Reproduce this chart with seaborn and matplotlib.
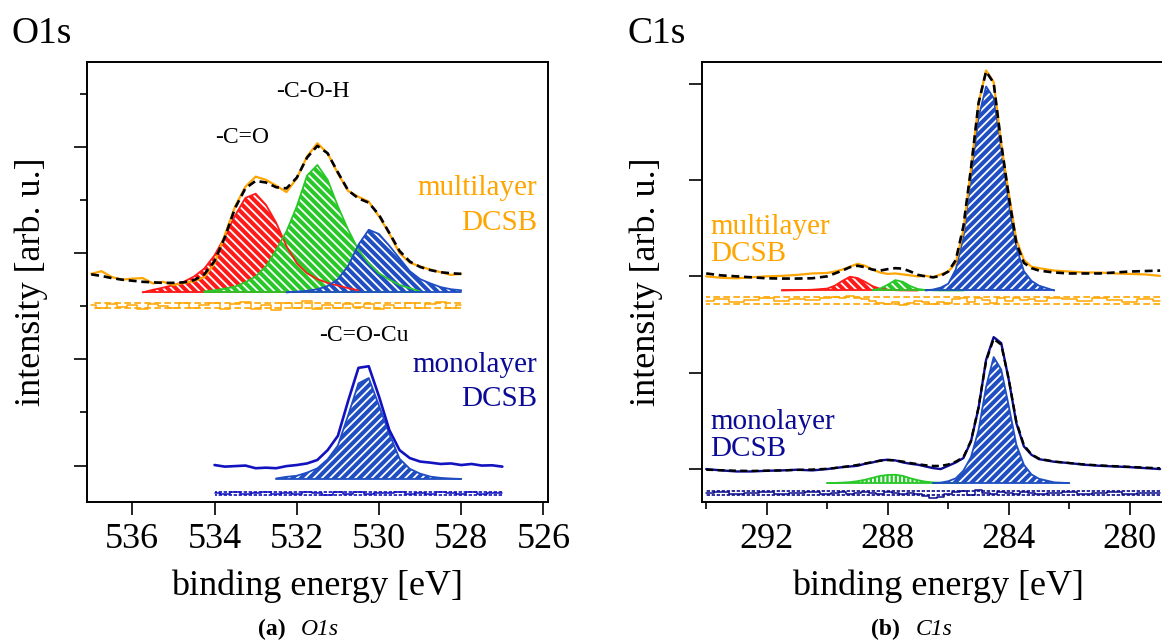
import numpy as np
import pandas as pd
import matplotlib
matplotlib.use("Agg")
import matplotlib.pyplot as plt
import seaborn as sns

nan = np.nan

# ---------------- O1s ----------------
o1s_energy = [537.0, 536.75, 536.5, 536.25, 536.0, 535.75, 535.5, 535.25, 535.0,
              534.75, 534.5, 534.25, 534.0, 533.75, 533.5, 533.25, 533.0, 532.75,
              532.5, 532.25, 532.0, 531.75, 531.5, 531.25, 531.0, 530.75, 530.5,
              530.25, 530.0, 529.75, 529.5, 529.25, 529.0, 528.75, 528.5, 528.25,
              528.0, 527.75, 527.5, 527.25, 527.0]

o1s_multi_data = [3.61, 3.66, 3.55, 3.50, 3.52, 3.53, 3.43, 3.46, 3.40, 3.44, 3.47, 3.55,
                  3.81, 4.34, 4.88, 5.25, 5.44, 5.38, 5.27, 5.15, 5.41, 5.82, 6.07, 5.88,
                  5.50, 5.17, 5.06, 4.97, 4.69, 4.37, 4.00, 3.82, 3.75, 3.69, 3.64, 3.59,
                  3.61, nan, nan, nan, nan]
o1s_multi_fit = [3.60, 3.57, 3.53, 3.50, 3.48, 3.46, 3.45, 3.44, 3.44, 3.45, 3.49, 3.60,
                 3.85, 4.30, 4.85, 5.22, 5.36, 5.33, 5.24, 5.22, 5.42, 5.80, 6.02, 5.88,
                 5.52, 5.18, 5.03, 4.95, 4.72, 4.38, 4.04, 3.84, 3.74, 3.68, 3.64, 3.62,
                 3.61, nan, nan, nan, nan]
o1s_multi_resid = [3.03, 2.97, 3.05, 2.98, 3.02, 2.95, 3.04, 3.00, 2.97, 3.06, 2.96, 3.02,
                   3.07, 2.94, 3.05, 3.08, 2.95, 3.03, 2.93, 3.06, 2.97, 3.09, 2.94, 3.02,
                   2.96, 3.05, 2.99, 3.04, 2.95, 3.03, 2.97, 3.06, 2.96, 3.04, 3.08, 2.97,
                   3.02, nan, nan, nan, nan]
o1s_multi_base = 3.26
# fitted components (height above the component baseline)
o1s_red = [nan, nan, nan, nan, nan, 0.0, 0.05, 0.09, 0.14, 0.20, 0.30, 0.45, 0.70, 1.05,
           1.45, 1.78, 1.86, 1.65, 1.31, 0.87, 0.55, 0.36, 0.25, 0.18, 0.13, 0.08, 0.04,
           nan, nan, nan, nan, nan, nan, nan, nan, nan, nan, nan, nan, nan, nan]
o1s_green = [nan, nan, nan, nan, nan, nan, nan, nan, nan, nan, nan, 0.02, 0.04, 0.07,
             0.11, 0.19, 0.30, 0.49, 0.80, 1.15, 1.62, 2.20, 2.40, 2.12, 1.62, 1.18, 0.80,
             0.55, 0.36, 0.24, 0.14, 0.08, 0.02, nan, nan, nan, nan, nan, nan, nan, nan]
o1s_blue = [nan, nan, nan, nan, nan, nan, nan, nan, nan, nan, nan, nan, nan, nan, nan,
            nan, nan, nan, nan, 0.0, 0.015, 0.03, 0.06, 0.12, 0.25, 0.50, 0.90, 1.18, 1.10,
            0.88, 0.64, 0.40, 0.25, 0.17, 0.10, 0.06, 0.04, nan, nan, nan, nan]

o1s_mono_data = [nan] * 12 + [0.01, -0.02, -0.01, 0.0, -0.05, -0.04, -0.05, -0.01, 0.01,
                              0.04, 0.105, 0.29, 0.56, 1.22, 1.84, 1.87, 1.30, 0.67, 0.29,
                              0.14, 0.075, 0.055, 0.03, 0.04, 0.01, 0.03, 0.0, 0.005, -0.02]
o1s_mono_resid = [nan] * 12 + [-0.51, -0.53, -0.50, -0.54, -0.52, -0.50, -0.53, -0.51, -0.54,
                               -0.50, -0.52, -0.55, -0.50, -0.53, -0.49, -0.54, -0.51, -0.52,
                               -0.50, -0.54, -0.51, -0.53, -0.50, -0.52, -0.54, -0.50, -0.53,
                               -0.51, -0.52]
o1s_mono_base = -0.252
o1s_mono_blue = [nan] * 18 + [0.01, 0.04, 0.06, 0.12, 0.20, 0.37, 0.63, 1.20, 1.80, 1.90,
                              1.38, 0.85, 0.38, 0.19, 0.10, 0.044, 0.02, 0.008, 0.0] + [nan] * 4

# ---------------- C1s ----------------
c1s_energy = [294.0, 293.5, 293.0, 292.5, 292.0, 291.5, 291.0, 290.5, 290.0, 289.75,
              289.5, 289.25, 289.0, 288.75, 288.5, 288.25, 288.0, 287.75, 287.5, 287.25,
              287.0, 286.75, 286.5, 286.25, 286.0, 285.75, 285.5, 285.25, 285.0, 284.75,
              284.5, 284.25, 284.0, 283.75, 283.5, 283.25, 283.0, 282.5, 282.0, 281.5,
              281.0, 280.5, 280.0, 279.5, 279.0]

c1s_multi_data = [2.00, 1.985, 1.98, 1.99, 2.00, 2.005, 2.015, 2.03, 2.035, 2.05, 2.07,
                  2.10, 2.13, 2.11, 2.07, 2.04, 2.025, 2.03, 2.02, 2.01, 2.00, 2.005, 1.99,
                  2.02, 2.05, 2.14, 2.48, 3.11, 3.80, 4.14, 4.02, 3.38, 2.86, 2.38, 2.17,
                  2.10, 2.085, 2.06, 2.05, 2.04, 2.04, 2.03, 2.025, 2.02, 2.005]
c1s_multi_fit = [2.03, 2.01, 2.00, 1.99, 1.98, 1.977, 1.977, 1.98, 2.00, 2.03, 2.06, 2.095,
                 2.11, 2.095, 2.07, 2.06, 2.075, 2.085, 2.08, 2.05, 2.015, 2.00, 1.99, 2.005,
                 2.05, 2.17, 2.52, 3.12, 3.80, 4.13, 4.01, 3.38, 2.83, 2.345, 2.14, 2.085,
                 2.06, 2.04, 2.03, 2.03, 2.03, 2.04, 2.05, 2.055, 2.06]
c1s_multi_resid = [1.74, 1.76, 1.73, 1.75, 1.77, 1.74, 1.76, 1.75, 1.78, 1.79, 1.77, 1.80,
                   1.78, 1.76, 1.74, 1.72, 1.71, 1.73, 1.70, 1.72, 1.74, 1.73, 1.71, 1.73,
                   1.72, 1.76, 1.77, 1.73, 1.78, 1.75, 1.72, 1.78, 1.74, 1.77, 1.75, 1.76,
                   1.74, 1.77, 1.76, 1.74, 1.77, 1.75, 1.73, 1.76, 1.74]
c1s_multi_base = 1.853
c1s_red = [nan] * 5 + [0.0, 0.003, 0.008, 0.02, 0.05, 0.10, 0.143, 0.13, 0.09, 0.045, 0.018,
                       0.008, 0.003, 0.001, 0.0, 0.0] + [nan] * 24
c1s_green = [nan] * 14 + [0.003, 0.02, 0.06, 0.108, 0.09, 0.045, 0.015, 0.005, 0.002, 0.0,
                          0.0, 0.0, 0.0] + [nan] * 18
c1s_blue = [nan] * 21 + [0.0, 0.01, 0.03, 0.07, 0.22, 0.55, 1.18, 1.80, 2.12, 2.00, 1.50,
                         0.90, 0.45, 0.20, 0.10, 0.05, 0.0] + [nan] * 7

c1s_mono_data = [-0.003, -0.017, -0.028, -0.028, -0.021, -0.017, -0.010, -0.017, -0.003,
                 0.007, 0.017, 0.024, 0.031, 0.052, 0.066, 0.087, 0.094, 0.087, 0.066,
                 0.052, 0.042, 0.024, 0.007, -0.003, 0.031, 0.066, 0.111, 0.284, 0.630,
                 1.132, 1.368, 1.306, 0.925, 0.474, 0.232, 0.145, 0.100, 0.073, 0.059,
                 0.042, 0.031, 0.024, 0.017, 0.007, -0.003]
c1s_mono_fit = [-0.01, -0.015, -0.02, -0.022, -0.02, -0.017, -0.012, -0.008, 0.0, 0.008,
                0.018, 0.028, 0.04, 0.055, 0.07, 0.083, 0.09, 0.087, 0.075, 0.06, 0.048,
                0.037, 0.03, 0.03, 0.045, 0.075, 0.12, 0.29, 0.64, 1.12, 1.35, 1.29, 0.93,
                0.49, 0.245, 0.15, 0.105, 0.075, 0.06, 0.045, 0.035, 0.027, 0.02, 0.012, 0.005]
c1s_mono_resid = [-0.25, -0.24, -0.26, -0.25, -0.24, -0.26, -0.25, -0.24, -0.26, -0.25,
                  -0.24, -0.26, -0.25, -0.24, -0.25, -0.26, -0.24, -0.25, -0.26, -0.25,
                  -0.26, -0.28, -0.30, -0.29, -0.26, -0.24, -0.23, -0.27, -0.22, -0.25,
                  -0.26, -0.24, -0.25, -0.26, -0.24, -0.25, -0.26, -0.25, -0.24, -0.26,
                  -0.25, -0.24, -0.26, -0.25, -0.25]
c1s_mono_base = -0.149
c1s_mono_green = [nan] * 8 + [0.0, 0.002, 0.005, 0.01, 0.02, 0.035, 0.055, 0.075, 0.085,
                              0.087, 0.075, 0.05, 0.03, 0.015, 0.007, 0.003, 0.001, 0.0,
                              0.0] + [nan] * 18
c1s_mono_blue = [nan] * 22 + [0.0, 0.005, 0.02, 0.05, 0.13, 0.27, 0.55, 1.0, 1.31, 1.18,
                              0.80, 0.40, 0.19, 0.09, 0.045, 0.008, 0.0] + [nan] * 6

# residual band levels
o1s_multi_band = [3.07, 2.96]
o1s_mono_band = [-0.49, -0.55]
c1s_multi_band = [1.784, 1.714]
c1s_mono_band = [-0.236, -0.27]

ORANGE = "#ffa500"
RED = "#ff1a1a"
GREEN = "#28c828"
BLUE = "#1f4ec2"
MONO = "#1212c0"
NAVY = "#0c0c8c"
MONO_TXT = "#0a0a96"

sns.set_theme(style="ticks")
plt.rcParams["font.family"] = ["Liberation Serif", "DejaVu Serif"]
plt.rcParams["hatch.linewidth"] = 1.3
plt.rcParams["hatch.color"] = "white"
for key in ("text.color", "axes.labelcolor", "xtick.color", "ytick.color", "axes.edgecolor"):
    plt.rcParams[key] = "black"


def draw_line(ax, energy, values, **kw):
    d = pd.DataFrame({"E": energy, "v": values}).dropna()
    sns.lineplot(data=d, x="E", y="v", ax=ax, sort=False, estimator=None, **kw)


def draw_component(ax, energy, heights, base, color, hatch):
    comp = pd.DataFrame({"E": energy, "h": heights}).dropna()
    top = base + comp["h"].to_numpy()
    ax.fill_between(comp["E"], base, top, facecolor=color, edgecolor="white",
                    hatch=hatch, linewidth=0, zorder=2)
    sns.lineplot(x=comp["E"].to_numpy(), y=top, ax=ax, color=color, lw=1.3,
                 sort=False, estimator=None, zorder=3)
    sns.lineplot(x=comp["E"].to_numpy(), y=np.full(len(comp), base), ax=ax, color=color,
                 lw=1.3, sort=False, estimator=None, zorder=3)


def draw_band(ax, energy, values, band, color, ls):
    d = pd.DataFrame({"E": energy, "v": values}).dropna()
    for lvl in band:
        ax.hlines(lvl, d["E"].min(), d["E"].max(), color=color, lw=1.2, linestyles=[ls], zorder=4)
    sns.lineplot(data=d, x="E", y="v", ax=ax, color=color, lw=1.1, drawstyle="steps-mid",
                 sort=False, estimator=None, zorder=4)


fig = plt.figure(figsize=(11.62, 6.44), dpi=100)
axL = fig.add_axes([0.0746, 0.2210, 0.3970, 0.6820])
axR = fig.add_axes([0.6041, 0.2210, 0.4070, 0.6820])

dash = (0, (3.0, 1.8))
back = "\\\\\\\\"
fwd = "////"

# ---- left: O1s ----
draw_component(axL, o1s_energy, o1s_red, o1s_multi_base, RED, back)
draw_component(axL, o1s_energy, o1s_green, o1s_multi_base, GREEN, back)
draw_component(axL, o1s_energy, o1s_blue, o1s_multi_base, BLUE, back)
draw_line(axL, o1s_energy, o1s_multi_data, color=ORANGE, lw=1.6, zorder=5)
draw_line(axL, o1s_energy, o1s_multi_fit, color="black", lw=1.9, linestyle=dash, zorder=6)
draw_band(axL, o1s_energy, o1s_multi_resid, o1s_multi_band, ORANGE, (0, (4, 2)))

draw_component(axL, o1s_energy, o1s_mono_blue, o1s_mono_base, BLUE, fwd)
draw_line(axL, o1s_energy, o1s_mono_data, color=MONO, lw=1.9, zorder=5)
draw_band(axL, o1s_energy, o1s_mono_resid, o1s_mono_band, MONO, (0, (2, 1)))

tfs = 17
axL.text(531.60, 7.04, "-C-O-H", fontsize=tfs, ha="center", va="center")
axL.text(533.33, 6.17, "-C=O", fontsize=tfs, ha="center", va="center")
axL.text(530.37, 2.44, "-C=O-Cu", fontsize=tfs, ha="center", va="center")
lfs = 21
axL.text(526.15, 5.10, "multilayer", color=ORANGE, fontsize=lfs, ha="right", va="baseline")
axL.text(526.15, 4.43, "DCSB", color=ORANGE, fontsize=lfs, ha="right", va="baseline")
axL.text(526.15, 1.77, "monolayer", color=MONO_TXT, fontsize=lfs, ha="right", va="baseline")
axL.text(526.15, 1.12, "DCSB", color=MONO_TXT, fontsize=lfs, ha="right", va="baseline")

axL.set_xlim(537.11, 525.89)
axL.set_ylim(-0.68, 7.59)
axL.set_xticks([536, 534, 532, 530, 528, 526])
axL.set_yticks([0, 2, 4, 6])
axL.set_yticks([1, 3, 5, 7], minor=True)

# ---- right: C1s ----
draw_component(axR, c1s_energy, c1s_red, c1s_multi_base, RED, back)
draw_component(axR, c1s_energy, c1s_green, c1s_multi_base, GREEN, back)
draw_component(axR, c1s_energy, c1s_blue, c1s_multi_base, BLUE, fwd)
draw_line(axR, c1s_energy, c1s_multi_data, color=ORANGE, lw=1.6, zorder=5)
draw_line(axR, c1s_energy, c1s_multi_fit, color="black", lw=1.9, linestyle=dash, zorder=6)
draw_band(axR, c1s_energy, c1s_multi_resid, c1s_multi_band, ORANGE, (0, (4, 2)))

draw_component(axR, c1s_energy, c1s_mono_green, c1s_mono_base, GREEN, "||||")
draw_component(axR, c1s_energy, c1s_mono_blue, c1s_mono_base, BLUE, fwd)
draw_line(axR, c1s_energy, c1s_mono_data, color=NAVY, lw=1.7, zorder=5)
draw_line(axR, c1s_energy, c1s_mono_fit, color="black", lw=1.7, linestyle=dash, zorder=6)
draw_band(axR, c1s_energy, c1s_mono_resid, c1s_mono_band, NAVY, (0, (2, 1)))

axR.text(293.87, 2.44, "multilayer", color=ORANGE, fontsize=lfs, ha="left", va="baseline")
axR.text(293.87, 2.16, "DCSB", color=ORANGE, fontsize=lfs, ha="left", va="baseline")
axR.text(293.87, 0.41, "monolayer", color=MONO_TXT, fontsize=lfs, ha="left", va="baseline")
axR.text(293.87, 0.135, "DCSB", color=MONO_TXT, fontsize=lfs, ha="left", va="baseline")

axR.set_xlim(294.14, 278.51)
axR.set_ylim(-0.342, 4.223)
axR.set_xticks([292, 288, 284, 280])
axR.set_xticks([294, 290, 286, 282], minor=True)
axR.set_yticks([0, 1, 2, 3, 4])

for ax in (axL, axR):
    for s in ax.spines.values():
        s.set_linewidth(1.4)
        s.set_color("black")
    ax.tick_params(axis="both", which="major", direction="out", length=9.5, width=1.2,
                   labelsize=26, pad=6, color="black", labelcolor="black")
    ax.tick_params(axis="both", which="minor", direction="out", length=5, width=1.2,
                   color="black")
    ax.tick_params(axis="y", labelleft=False)
    ax.set_xlabel("binding energy [eV]", fontsize=26, color="black")
    ax.set_ylabel("intensity [arb. u.]", fontsize=26, color="black")
    ax.xaxis.set_label_coords(0.5, -0.155)

axL.yaxis.set_label_coords(-0.084, 0.5)
axR.yaxis.set_label_coords(-0.0825, 0.5)

fig.text(0.0103, 0.933, "O1s", fontsize=27, va="baseline", color="black")
fig.text(0.5396, 0.933, "C1s", fontsize=27, va="baseline", color="black")

fig.text(0.2460, 0.022, "(a)", fontsize=17, weight="bold", ha="right", va="center", color="black")
fig.text(0.2590, 0.022, "O1s", fontsize=17, style="italic", ha="left", va="center", color="black")
fig.text(0.7740, 0.022, "(b)", fontsize=17, weight="bold", ha="right", va="center", color="black")
fig.text(0.7880, 0.022, "C1s", fontsize=17, style="italic", ha="left", va="center", color="black")

fig.savefig("out.png", dpi=100, facecolor="white")
